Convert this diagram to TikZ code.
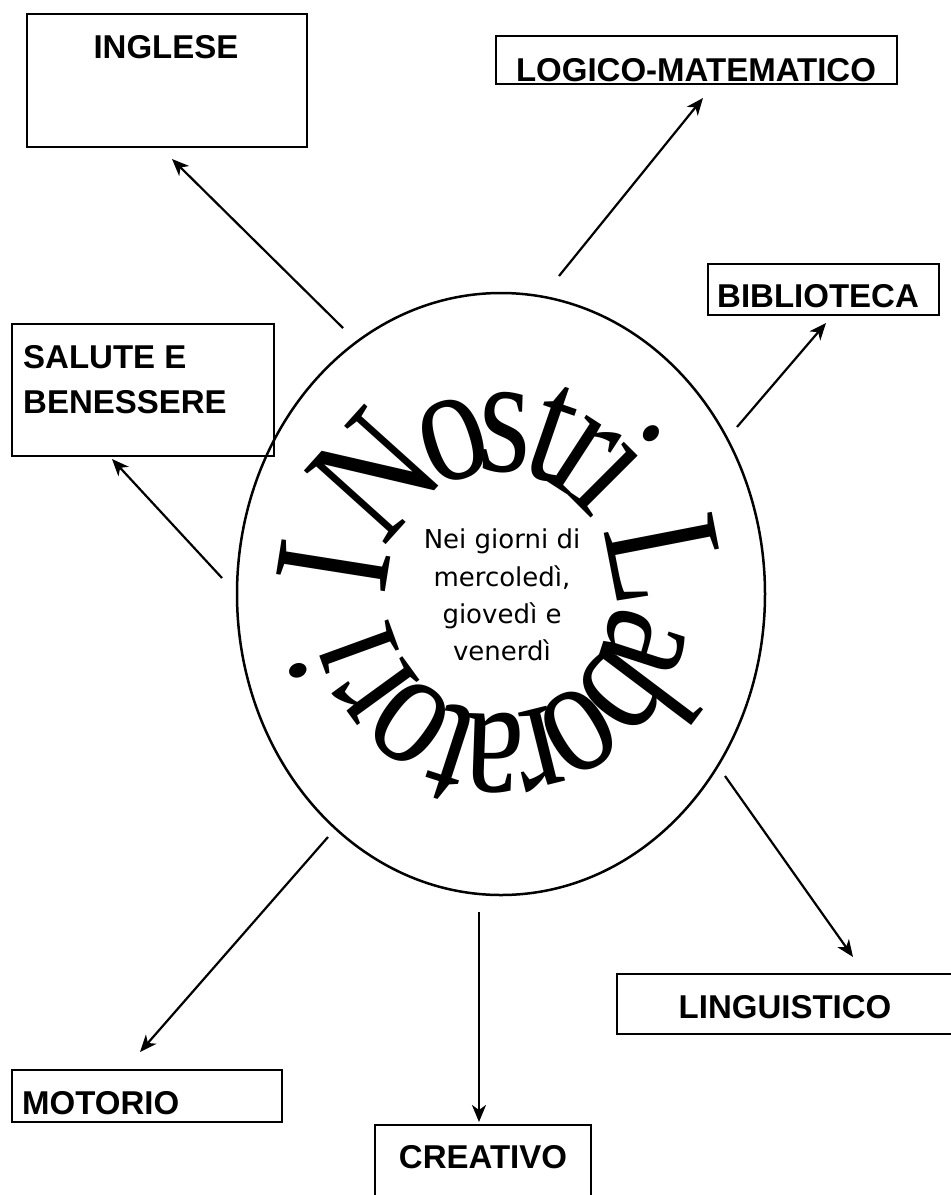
\documentclass[tikz,border=0pt]{standalone}
\usepackage{fontspec}
\setmainfont{Liberation Sans}
\newfontfamily\titlefont[FakeStretch=0.8]{Liberation Serif}
\newfontfamily\innerfont{DejaVu Sans}
\usetikzlibrary{shapes.geometric,arrows.meta}
\begin{document}
\begin{tikzpicture}[x=1pt,y=-1pt,
  box/.style={draw, line width=2.4pt, rectangle, inner sep=0pt},
  lbl/.style={inner sep=0pt, font=\bfseries\fontsize{33}{40}\selectfont},
  inner/.style={inner sep=0pt, anchor=base, font=\innerfont\fontsize{26}{32}\selectfont},
  titlechar/.style={inner sep=0pt, anchor=base, font=\titlefont\fontsize{168}{168}\selectfont},
  arr/.style={line width=2.2pt, -{Stealth[length=17pt, width=14pt, inset=5pt]}}]
\useasboundingbox (0,0) rectangle (951,1195);
\clip (0,0) rectangle (951,1195);
\fill[white] (0,0) rectangle (951,1195);

% central ellipse
\node[draw, ellipse, line width=2.5pt, inner sep=0pt, minimum width=528pt, minimum height=602pt] (circ) at (501,594) {};

% boxes
\node[box, minimum width=280pt, minimum height=133pt] (inglese) at (167,80.5) {};
\node[box, minimum width=401pt, minimum height=48pt] (logico) at (696.5,60) {};
\node[box, minimum width=231pt, minimum height=51pt] (biblio) at (823.5,289.5) {};
\node[box, minimum width=262pt, minimum height=132pt] (salute) at (143,390) {};
\node[box, minimum width=348pt, minimum height=60pt] (linguistico) at (791,1004) {};
\node[box, minimum width=270pt, minimum height=52pt] (motorio) at (147,1096) {};
\node[box, minimum width=216pt, minimum height=90pt] (creativo) at (483,1170) {};

% labels
\node[lbl, anchor=base] (tInglese) at (166,58) {INGLESE};
\node[lbl, anchor=base] (tLogico) at (696,81) {LOGICO-MATEMATICO};
\node[lbl, anchor=base] (tBiblio) at (818,307) {BIBLIOTECA};
\node[lbl, anchor=base west] (tSalute1) at (23,368) {SALUTE E};
\node[lbl, anchor=base west] (tSalute2) at (23,413) {BENESSERE};
\node[lbl, anchor=base] (tLing) at (785,1018) {LINGUISTICO};
\node[lbl, anchor=base west] (tMotorio) at (22,1114) {MOTORIO};
\node[lbl, anchor=base] (tCreativo) at (483,1168) {CREATIVO};

% inner text
\node[inner] (nei1) at (502,548) {Nei giorni di};
\node[inner] (nei2) at (502,586) {mercoledì,};
\node[inner] (nei3) at (502,623) {giovedì e};
\node[inner] (nei4) at (502,660) {venerdì};

% curved title
\foreach \ch/\ang [count=\k, evaluate=\ang as \rot using \ang-90] in
  {I/171, N/138, o/108, s/88, t/71, r/57, i/45, L/11, a/-18, b/-37, o/-59, r/-76, a/-92, t/-108, o/-126, r/-144, i/-160}
  \node[titlechar, rotate=\rot] (tl\k) at ({500+113*cos(\ang)}, {593-122*sin(\ang)}) {\ch};

% connector end points
\coordinate (s1) at (343,328); \coordinate (e1) at (172,159);
\coordinate (s2) at (559,276); \coordinate (e2) at (703,98);
\coordinate (s3) at (737,427); \coordinate (e3) at (826,323);
\coordinate (s4) at (222,578); \coordinate (e4) at (112,459);
\coordinate (s5) at (725,776); \coordinate (e5) at (853,957);
\coordinate (s6) at (328,837); \coordinate (e6) at (140,1052);
\coordinate (s7) at (479,912); \coordinate (e7) at (479,1122);

\draw[arr] (s1) -- (e1);
\draw[arr] (s2) -- (e2);
\draw[arr] (s3) -- (e3);
\draw[arr] (s4) -- (e4);
\draw[arr] (s5) -- (e5);
\draw[arr] (s6) -- (e6);
\draw[arr] (s7) -- (e7);
\end{tikzpicture}
\end{document}
